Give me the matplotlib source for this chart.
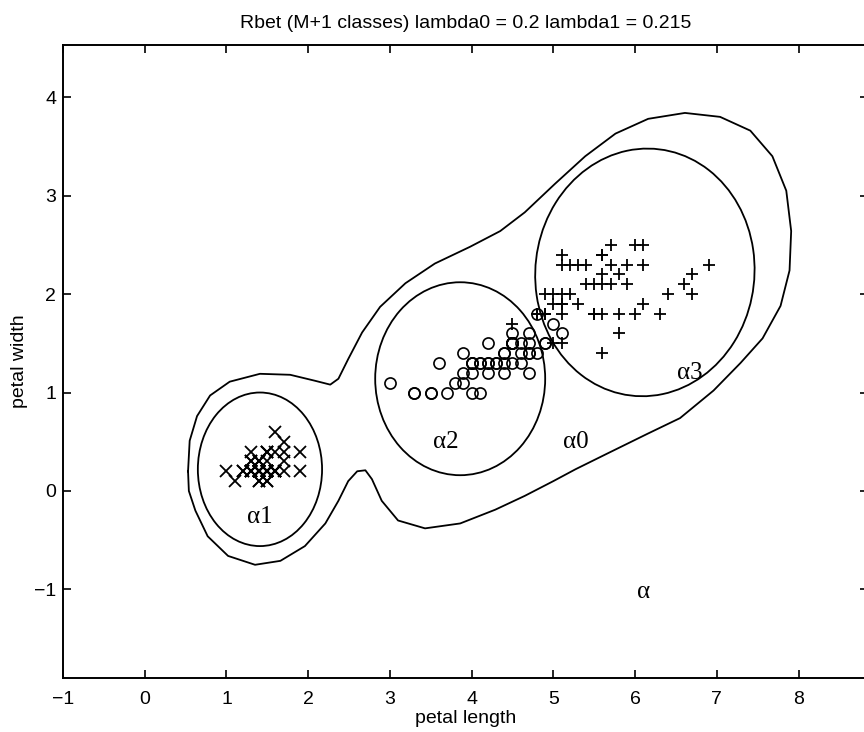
import numpy as np
import matplotlib.pyplot as plt
from matplotlib.patches import Ellipse

# iris petal measurements (length, width)
setosa_len = [1.4, 1.4, 1.3, 1.5, 1.4, 1.7, 1.4, 1.5, 1.4, 1.5, 1.5, 1.6, 1.4, 1.1, 1.2, 1.5, 1.3, 1.4, 1.7, 1.5,
              1.7, 1.5, 1.0, 1.7, 1.9, 1.6, 1.6, 1.5, 1.4, 1.6, 1.6, 1.5, 1.5, 1.4, 1.5, 1.2, 1.3, 1.4, 1.3, 1.5,
              1.3, 1.3, 1.3, 1.6, 1.9, 1.4, 1.6, 1.4, 1.5, 1.4]
setosa_wid = [0.2, 0.2, 0.2, 0.2, 0.2, 0.4, 0.3, 0.2, 0.2, 0.1, 0.2, 0.2, 0.1, 0.1, 0.2, 0.4, 0.4, 0.3, 0.3, 0.3,
              0.2, 0.4, 0.2, 0.5, 0.2, 0.2, 0.4, 0.2, 0.2, 0.2, 0.2, 0.4, 0.1, 0.2, 0.2, 0.2, 0.2, 0.1, 0.2, 0.2,
              0.3, 0.3, 0.2, 0.6, 0.4, 0.3, 0.2, 0.2, 0.2, 0.2]
versi_len = [4.7, 4.5, 4.9, 4.0, 4.6, 4.5, 4.7, 3.3, 4.6, 3.9, 3.5, 4.2, 4.0, 4.7, 3.6, 4.4, 4.5, 4.1, 4.5, 3.9,
             4.8, 4.0, 4.9, 4.7, 4.3, 4.4, 4.8, 5.0, 4.5, 3.5, 3.8, 3.7, 3.9, 5.1, 4.5, 4.5, 4.7, 4.4, 4.1, 4.0,
             4.4, 4.6, 4.0, 3.3, 4.2, 4.2, 4.2, 4.3, 3.0, 4.1]
versi_wid = [1.4, 1.5, 1.5, 1.3, 1.5, 1.3, 1.6, 1.0, 1.3, 1.4, 1.0, 1.5, 1.0, 1.4, 1.3, 1.4, 1.5, 1.0, 1.5, 1.1,
             1.8, 1.3, 1.5, 1.2, 1.3, 1.4, 1.4, 1.7, 1.5, 1.0, 1.1, 1.0, 1.2, 1.6, 1.5, 1.6, 1.5, 1.3, 1.3, 1.3,
             1.2, 1.4, 1.2, 1.0, 1.3, 1.2, 1.3, 1.3, 1.1, 1.3]
virg_len = [6.0, 5.1, 5.9, 5.6, 5.8, 6.6, 4.5, 6.3, 5.8, 6.1, 5.1, 5.3, 5.5, 5.0, 5.1, 5.3, 5.5, 6.7, 6.9, 5.0,
            5.7, 4.9, 6.7, 4.9, 5.7, 6.0, 4.8, 4.9, 5.6, 5.8, 6.1, 6.4, 5.6, 5.1, 5.6, 6.1, 5.6, 5.5, 4.8, 5.4,
            5.6, 5.1, 5.1, 5.9, 5.7, 5.2, 5.0, 5.2, 5.4, 5.1]
virg_wid = [2.5, 1.9, 2.1, 1.8, 2.2, 2.1, 1.7, 1.8, 1.8, 2.5, 2.0, 1.9, 2.1, 2.0, 2.4, 2.3, 1.8, 2.2, 2.3, 1.5,
            2.3, 2.0, 2.0, 1.8, 2.1, 1.8, 1.8, 1.8, 2.1, 1.6, 1.9, 2.0, 2.2, 1.5, 1.4, 2.3, 2.4, 1.8, 1.8, 2.1,
            2.4, 2.3, 1.9, 2.3, 2.5, 2.3, 1.9, 2.0, 2.3, 1.8]

# class boundaries: center x, center y, width, height, angle
class_ellipses = [
    (1.41, 0.22, 1.52, 1.56, 0),
    (3.86, 1.14, 2.08, 1.96, 0),
    (6.12, 2.22, 2.69, 2.51, 10),
]

# distance reject boundary
outer_x = [0.53, 0.55, 0.64, 0.80, 1.04, 1.41, 1.78, 2.08, 2.27, 2.37, 2.49, 2.66, 2.88, 3.19, 3.55, 3.98,
           4.35, 4.65, 5.02, 5.39, 5.76, 6.16, 6.61, 7.04, 7.41, 7.68, 7.85, 7.91, 7.89, 7.78, 7.56, 7.29,
           6.96, 6.55, 6.15, 5.66, 5.27, 5.00, 4.65, 4.29, 3.86, 3.43, 3.10, 2.90, 2.78, 2.70, 2.60, 2.49,
           2.37, 2.21, 1.96, 1.66, 1.35, 1.02, 0.77, 0.62, 0.54, 0.53]
outer_y = [0.20, 0.51, 0.76, 0.97, 1.11, 1.19, 1.18, 1.12, 1.08, 1.14, 1.34, 1.61, 1.87, 2.11, 2.31, 2.48,
           2.64, 2.83, 3.12, 3.40, 3.63, 3.78, 3.84, 3.80, 3.66, 3.40, 3.05, 2.64, 2.24, 1.88, 1.55, 1.30,
           1.02, 0.74, 0.58, 0.38, 0.22, 0.10, -0.05, -0.19, -0.33, -0.38, -0.30, -0.10, 0.12, 0.21, 0.20, 0.10,
           -0.10, -0.33, -0.56, -0.71, -0.75, -0.66, -0.46, -0.20, 0.00, 0.20]

region_labels = ['α1', 'α2', 'α0', 'α3', 'α']
label_x = [1.41, 3.68, 5.27, 6.67, 6.1]
label_y = [-0.26, 0.5, 0.5, 1.2, -1.03]

plt.rcParams['font.family'] = ['Liberation Sans', 'DejaVu Sans']
fig = plt.figure(figsize=(8.64, 7.32), dpi=100)
ax = fig.add_axes([63 / 864, 54 / 732, 805 / 864, 633 / 732])

for cx, cy, w, h, a in class_ellipses:
    ax.add_patch(Ellipse((cx, cy), w, h, angle=a, fill=False, color='black', lw=1.3))
ax.plot(outer_x, outer_y, color='black', lw=1.3, solid_joinstyle='round')

ax.plot(setosa_len, setosa_wid, 'x', color='black', ms=9, mew=1.3)
ax.plot(versi_len, versi_wid, 'o', color='black', mfc='none', ms=8, mew=1.2)
ax.plot(virg_len, virg_wid, '+', color='black', ms=9, mew=1.3)

for t, x, y in zip(region_labels, label_x, label_y):
    ax.text(x, y, t, family='Liberation Serif', fontsize=18, ha='center', va='center')

ax.set_xlim(-1, 8.85)
ax.set_ylim(-1.9, 4.53)
ax.set_xticks(range(-1, 9))
ax.set_yticks(range(-1, 5))
ax.set_xticklabels(['\u22121' if v < 0 else str(v) for v in range(-1, 9)])
ax.set_yticklabels(['\u22121' if v < 0 else str(v) for v in range(-1, 5)])
ax.tick_params(direction='in', length=6, width=1.2, top=True, right=True, labelsize=14)
ax.tick_params(axis='x', pad=9)
ax.tick_params(axis='y', pad=5)
for s in ax.spines.values():
    s.set_linewidth(1.4)
ax.set_xlabel('petal length', fontsize=14, labelpad=2)
ax.set_ylabel('petal width', fontsize=14)
ax.set_title('Rbet (M+1 classes) lambda0 = 0.2 lambda1 = 0.215', fontsize=14, pad=12)

fig.savefig('out.png', dpi=100)
